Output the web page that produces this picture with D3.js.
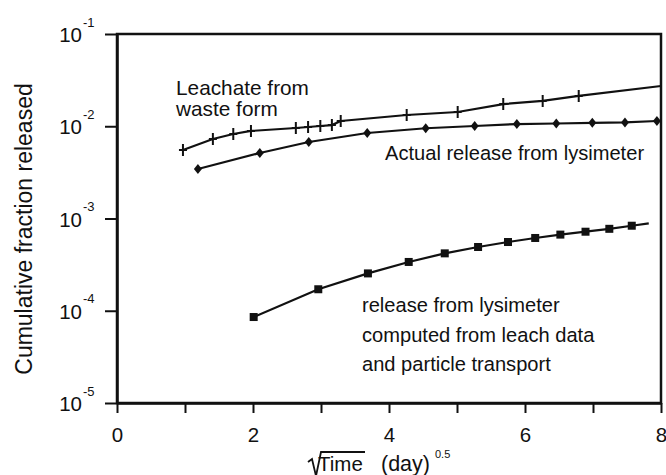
<!DOCTYPE html>
<html>
<head>
<meta charset="utf-8">
<script src="https://cdn.jsdelivr.net/npm/d3@7"></script>
<style>
  html, body { margin: 0; padding: 0; background: #fff; }
  svg { display: block; font-family: "Liberation Sans", Arial, Helvetica, sans-serif; }
</style>
</head>
<body>
<svg id="chart" width="666" height="475"></svg>
<script>
// ---- data (x = sqrt(time) in day^0.5, y = cumulative fraction released) ----
const leachateX = [0.97, 1.41, 1.71, 1.97, 2.63, 2.81, 2.99, 3.16, 3.29, 4.26, 5.01, 5.68, 6.26, 6.79, 8.0];
const leachateY = [0.00553, 0.00728, 0.00824, 0.00889, 0.00957, 0.00981, 0.01007, 0.0103, 0.0114, 0.01324, 0.01427, 0.0174, 0.0188, 0.0213, 0.0273];
const leachateMarked = [1,1,1,1,1,1,1,1,1,1,1,1,1,1,0];

const actualX = [1.19, 2.10, 2.82, 3.68, 4.54, 5.26, 5.88, 6.46, 6.99, 7.47, 7.94];
const actualY = [0.00344, 0.00513, 0.00675, 0.00845, 0.00951, 0.01006, 0.01057, 0.01071, 0.0109, 0.0110, 0.0114];

const computedX = [2.01, 2.96, 3.69, 4.29, 4.82, 5.31, 5.75, 6.15, 6.52, 6.89, 7.24, 7.57, 7.82];
const computedY = [8.55e-5, 1.71e-4, 2.54e-4, 3.38e-4, 4.19e-4, 4.91e-4, 5.56e-4, 6.15e-4, 6.69e-4, 7.19e-4, 7.73e-4, 8.35e-4, 8.87e-4];
const computedMarked = [1,1,1,1,1,1,1,1,1,1,1,1,0];

const xTicks = [0, 1, 2, 3, 4, 5, 6, 7, 8];
const xTickLabels = ["0", "", "2", "", "4", "", "6", "", "8"];
const yTicks = [1e-1, 1e-2, 1e-3, 1e-4, 1e-5];
const yTickBase = ["10", "10", "10", "10", "10"];
const yTickExp = ["-1", "-2", "-3", "-4", "-5"];

const yLabel = "Cumulative fraction released";
const xLabelParts = ["Time", "(day)", "0.5"];
const annLeach = ["Leachate from", "waste form"];
const annActual = ["Actual release from lysimeter"];
const annComputed = ["release from lysimeter", "computed from leach data", "and particle transport"];

// ---- layout ----
const L = 117, R = 661, T = 34, B = 403;
const svg = d3.select("#chart");
const ink = "#111";

const x = d3.scaleLinear().domain([0, 8]).range([L, R]);
const y = d3.scaleLog().domain([1e-5, 1e-1]).range([B, T]);

// frame
svg.append("rect").attr("x", L).attr("y", T).attr("width", R - L).attr("height", B - T)
  .attr("fill", "none").attr("stroke", ink).attr("stroke-width", 2.5);

// x axis
const xa = svg.append("g").attr("transform", `translate(0,${B})`)
  .call(d3.axisBottom(x).tickValues(xTicks).tickSize(10).tickSizeOuter(0)
    .tickFormat((d, i) => xTickLabels[i]));
xa.select(".domain").attr("stroke", ink).attr("stroke-width", 2.5);
xa.selectAll(".tick line").attr("stroke", ink).attr("stroke-width", 2);
xa.selectAll(".tick text").attr("fill", ink).attr("font-size", 20.5).attr("dy", 0).attr("y", 39)
  .attr("font-family", "Liberation Sans, Arial, sans-serif");

// y axis
const ya = svg.append("g").attr("transform", `translate(${L},0)`)
  .call(d3.axisLeft(y).tickValues(yTicks).tickSize(12).tickSizeOuter(0).tickFormat(""));
ya.select(".domain").attr("stroke", ink).attr("stroke-width", 2.5);
ya.selectAll(".tick line").attr("stroke", ink).attr("stroke-width", 2);
ya.selectAll(".tick").each(function(d, i) {
  const g = d3.select(this);
  g.append("text").attr("x", -35).attr("y", 7.5).attr("text-anchor", "end")
    .attr("fill", ink).attr("font-size", 20.5).text(yTickBase[i]);
  g.append("text").attr("x", -34).attr("y", -8).attr("text-anchor", "start")
    .attr("fill", ink).attr("font-size", 13).text(yTickExp[i]);
});

// y label
svg.append("text").attr("transform", "translate(32,229) rotate(-90)")
  .attr("text-anchor", "middle").attr("font-size", 23).attr("fill", ink).text(yLabel);

// x label with radical
svg.append("path").attr("d", "M308,462 L312,459 L316,476 L321,452 L365,452")
  .attr("fill", "none").attr("stroke", ink).attr("stroke-width", 1.8);
svg.append("text").attr("x", 318).attr("y", 471).attr("font-size", 20.5).attr("fill", ink).text(xLabelParts[0]);
svg.append("text").attr("x", 381).attr("y", 471).attr("font-size", 21.5).attr("fill", ink).text(xLabelParts[1]);
svg.append("text").attr("x", 435).attr("y", 458).attr("font-size", 11).attr("fill", ink).text(xLabelParts[2]);

// lines
const line = d3.line().x(d => x(d[0])).y(d => y(d[1]));
const leach = leachateX.map((v, i) => [v, leachateY[i]]);
const actual = actualX.map((v, i) => [v, actualY[i]]);
const comp = computedX.map((v, i) => [v, computedY[i]]);

[leach, actual, comp].forEach(s => {
  svg.append("path").datum(s).attr("d", line)
    .attr("fill", "none").attr("stroke", ink).attr("stroke-width", 2.2);
});

// markers: crosses for leachate
svg.append("g").selectAll("path").data(leach.filter((d, i) => leachateMarked[i]))
  .join("path")
  .attr("d", d => `M${x(d[0])},${y(d[1]) - 6}V${y(d[1]) + 6}M${x(d[0]) - 4},${y(d[1])}H${x(d[0]) + 4}`)
  .attr("stroke", ink).attr("stroke-width", 2).attr("fill", "none");

// diamonds for actual release
svg.append("g").selectAll("path").data(actual).join("path")
  .attr("d", d => { const cx = x(d[0]), cy = y(d[1]);
    return `M${cx},${cy - 5}L${cx + 4},${cy}L${cx},${cy + 5}L${cx - 4},${cy}Z`; })
  .attr("fill", ink);

// squares for computed
svg.append("g").selectAll("rect").data(comp.filter((d, i) => computedMarked[i])).join("rect")
  .attr("x", d => x(d[0]) - 4).attr("y", d => y(d[1]) - 4)
  .attr("width", 8).attr("height", 8).attr("fill", ink);

// annotations
function block(lines, x0, y0, dy, fs) {
  lines.forEach((t, i) => {
    svg.append("text").attr("x", x0).attr("y", y0 + i * dy)
      .attr("font-size", fs).attr("fill", ink).text(t);
  });
}
block(annLeach, 176, 95, 21, 20.8);
block(annActual, 385, 160, 0, 20.1);
block(annComputed, 362, 312, 29.5, 20.1);
</script>
</body>
</html>
